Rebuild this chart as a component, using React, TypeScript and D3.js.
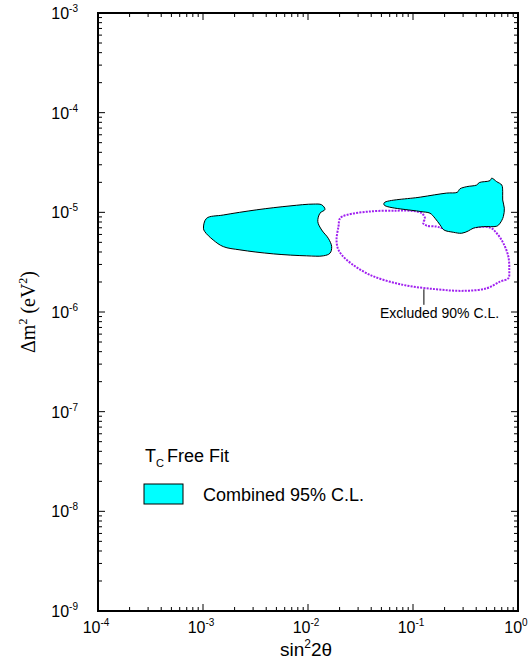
import React, { useRef, useEffect } from "react";
import * as d3 from "d3";

// sin^2 2theta / dm^2 (eV^2)
const leftBlobX = [1.01e-3, 1.08e-3, 1.56e-3, 3.25e-3, 6.74e-3, 1.12e-2, 1.35e-2, 1.45e-2, 1.30e-2, 1.24e-2, 1.35e-2, 1.56e-2, 1.68e-2, 1.62e-2, 1.40e-2, 9.7e-3, 4.68e-3, 2.25e-3, 1.56e-3, 1.25e-3, 1.04e-3];
const leftBlobY = [6.93e-6, 8.7e-6, 9.4e-6, 1.06e-5, 1.16e-5, 1.21e-5, 1.19e-5, 1.07e-5, 9.8e-6, 8.07e-6, 6.65e-6, 5.49e-6, 4.53e-6, 3.89e-6, 3.66e-6, 3.66e-6, 3.83e-6, 4.2e-6, 4.53e-6, 5.28e-6, 6.4e-6];

const rightBlobX = [5.33e-2, 5.33e-2, 0.117, 0.145, 0.162, 0.181, 0.197, 0.242, 0.291, 0.336, 0.375, 0.468, 0.627, 0.675, 0.725, 0.741, 0.715, 0.715, 0.700, 0.627, 0.562, 0.541, 0.428, 0.404, 0.325, 0.280, 0.264, 0.209, 0.117];
const rightBlobY = [1.25e-5, 1.18e-5, 1.02e-5, 9.8e-6, 8.73e-6, 7.48e-6, 6.66e-6, 6.31e-6, 6.17e-6, 6.5e-6, 6.93e-6, 7.19e-6, 7.26e-6, 7.78e-6, 9.06e-6, 1.10e-5, 1.33e-5, 1.61e-5, 1.88e-5, 2.03e-5, 2.20e-5, 2.08e-5, 1.99e-5, 1.88e-5, 1.81e-5, 1.72e-5, 1.59e-5, 1.56e-5, 1.42e-5];

const excludedX = [2.02e-2, 2.34e-2, 3.89e-2, 7.0e-2, 0.101, 0.121, 0.130, 0.125, 0.135, 0.168, 0.194, 0.313, 0.541, 0.627, 0.725, 0.809, 0.826, 0.809, 0.675, 0.504, 0.301, 0.168, 8.09e-2, 3.89e-2, 2.34e-2, 1.95e-2, 1.87e-2, 1.95e-2];
const excludedY = [8.73e-6, 9.42e-6, 1.02e-5, 1.04e-5, 1.03e-5, 9.8e-6, 8.73e-6, 7.78e-6, 7.36e-6, 7.19e-6, 6.93e-6, 6.98e-6, 7.03e-6, 6.17e-6, 4.9e-6, 3.6e-6, 2.64e-6, 2.18e-6, 2.02e-6, 1.73e-6, 1.63e-6, 1.69e-6, 1.87e-6, 2.36e-6, 3.33e-6, 4.2e-6, 5.28e-6, 7.19e-6];

const xDomain = [1e-4, 1];
const yDomain = [1e-9, 1e-3];
const xTickExp = [-4, -3, -2, -1, 0];
const yTickExp = [-9, -8, -7, -6, -5, -4, -3];

// annotation anchor: leader line x, top/bottom, label position
const leaderX = 0.127;
const leaderY = [1.69e-6, 1.18e-6];
const excludedLabel = { x: 0.179, y: 8.7e-7, text: "Excluded 90% C.L." };

const SANS = "'Liberation Sans', Arial, sans-serif";
const SERIF = "'Liberation Serif', 'Times New Roman', serif";

export default function App() {
  const ref = useRef<SVGSVGElement>(null);

  useEffect(() => {
    if (!ref.current) return;
    const svg = d3.select(ref.current);
    svg.selectAll("*").remove();

    const margin = { top: 13, right: 12, bottom: 56, left: 98 };
    const w = 530, h = 667;

    const x = d3.scaleLog().domain(xDomain).range([margin.left, w - margin.right]);
    const y = d3.scaleLog().domain(yDomain).range([h - margin.bottom, margin.top]);

    const [x0, x1] = x.range();
    const [y0, y1] = y.range(); // y0 bottom, y1 top

    // excluded region (dotted purple) drawn under the fits
    const closed = d3.line<[number, number]>()
      .x(d => x(d[0]))
      .y(d => y(d[1]))
      .curve(d3.curveCatmullRomClosed.alpha(0.5));

    const excl = excludedX.map((v, i) => [v, excludedY[i]] as [number, number]);
    svg.append("path")
      .attr("d", closed(excl) as string)
      .attr("fill", "none")
      .attr("stroke", "#a020f0")
      .attr("stroke-width", 2)
      .attr("stroke-dasharray", "2,1.2");

    [[leftBlobX, leftBlobY], [rightBlobX, rightBlobY]].forEach(([bx, by]) => {
      const pts = bx.map((v, i) => [v, by[i]] as [number, number]);
      svg.append("path")
        .attr("d", closed(pts) as string)
        .attr("fill", "#00ffff")
        .attr("stroke", "#000")
        .attr("stroke-width", 1);
    });

    // leader + label
    svg.append("line")
      .attr("x1", x(leaderX)).attr("x2", x(leaderX))
      .attr("y1", y(leaderY[0])).attr("y2", y(leaderY[1]))
      .attr("stroke", "#000").attr("stroke-width", 1);
    svg.append("text")
      .attr("x", x(excludedLabel.x))
      .attr("y", y(excludedLabel.y))
      .attr("text-anchor", "middle")
      .style("font-family", SANS)
      .style("font-size", "14px")
      .text(excludedLabel.text);

    // frame
    svg.append("rect")
      .attr("x", x0).attr("y", y1)
      .attr("width", x1 - x0).attr("height", y0 - y1)
      .attr("fill", "none").attr("stroke", "#000").attr("stroke-width", 2);

    // ticks on all four sides, pointing in
    const ticks = svg.append("g").attr("stroke", "#000").attr("stroke-width", 1);
    const minorOf = (exps: number[]) => {
      const out: number[] = [];
      exps.slice(0, -1).forEach(e => {
        for (let k = 2; k <= 9; k++) out.push(k * Math.pow(10, e));
      });
      return out;
    };
    const xMaj = xTickExp.map(e => Math.pow(10, e));
    const yMaj = yTickExp.map(e => Math.pow(10, e));
    const xs = [...xMaj.map(v => [v, 7]), ...minorOf(xTickExp).map(v => [v, 4])];
    const ys = [...yMaj.map(v => [v, 7]), ...minorOf(yTickExp).map(v => [v, 4])];
    xs.forEach(([v, len]) => {
      ticks.append("line").attr("x1", x(v)).attr("x2", x(v)).attr("y1", y0).attr("y2", y0 - len);
      ticks.append("line").attr("x1", x(v)).attr("x2", x(v)).attr("y1", y1).attr("y2", y1 + len);
    });
    ys.forEach(([v, len]) => {
      ticks.append("line").attr("y1", y(v)).attr("y2", y(v)).attr("x1", x0).attr("x2", x0 + len);
      ticks.append("line").attr("y1", y(v)).attr("y2", y(v)).attr("x1", x1).attr("x2", x1 - len);
    });

    // tick labels 10^n
    const powLabel = (g: d3.Selection<SVGTextElement, unknown, null, undefined>, e: number) => {
      g.append("tspan").text("10");
      g.append("tspan").attr("dy", -7).style("font-size", "10px").text(String(e));
    };
    xTickExp.forEach(e => {
      const t = svg.append("text")
        .attr("x", x(Math.pow(10, e)) - 2)
        .attr("y", y0 + 22)
        .attr("text-anchor", "middle")
        .style("font-family", SANS)
        .style("font-size", "16px");
      powLabel(t as any, e);
    });
    yTickExp.forEach(e => {
      const t = svg.append("text")
        .attr("x", 78)
        .attr("y", y(Math.pow(10, e)) + 6)
        .attr("text-anchor", "end")
        .style("font-family", SANS)
        .style("font-size", "16px");
      powLabel(t as any, e);
    });

    // axis titles
    const xt = svg.append("text")
      .attr("x", (x0 + x1) / 2 - 2)
      .attr("y", 656)
      .attr("text-anchor", "middle")
      .style("font-family", SANS)
      .style("font-size", "19px");
    xt.append("tspan").text("sin");
    xt.append("tspan").attr("dy", -8).style("font-size", "12px").text("2");
    xt.append("tspan").attr("dy", 8).text("2θ");

    const yt = svg.append("text")
      .attr("transform", `translate(35,${(y0 + y1) / 2}) rotate(-90)`)
      .attr("text-anchor", "middle")
      .style("font-family", SERIF)
      .style("font-size", "20px");
    yt.append("tspan").text("Δm");
    yt.append("tspan").attr("dy", -8).style("font-size", "12px").text("2");
    yt.append("tspan").attr("dy", 8).text(" (eV");
    yt.append("tspan").attr("dy", -8).style("font-size", "12px").text("2");
    yt.append("tspan").attr("dy", 8).text(")");

    // legend
    const lg = svg.append("g").style("font-family", SANS);
    lg.append("text").attr("x", 145).attr("y", 462).style("font-size", "18px").text("T");
    lg.append("text").attr("x", 156).attr("y", 467).style("font-size", "11px").text("C");
    lg.append("text").attr("x", 167).attr("y", 462).style("font-size", "18px").text("Free Fit");
    lg.append("rect")
      .attr("x", 144).attr("y", 484).attr("width", 39).attr("height", 20)
      .attr("fill", "#00ffff").attr("stroke", "#000").attr("stroke-width", 1);
    lg.append("text").attr("x", 203).attr("y", 501).style("font-size", "18px").text("Combined 95% C.L.");
  }, []);

  return (
    <svg
      ref={ref}
      width={530}
      height={667}
      style={{ position: "absolute", left: 0, top: 0, background: "#fff" }}
    />
  );
}
